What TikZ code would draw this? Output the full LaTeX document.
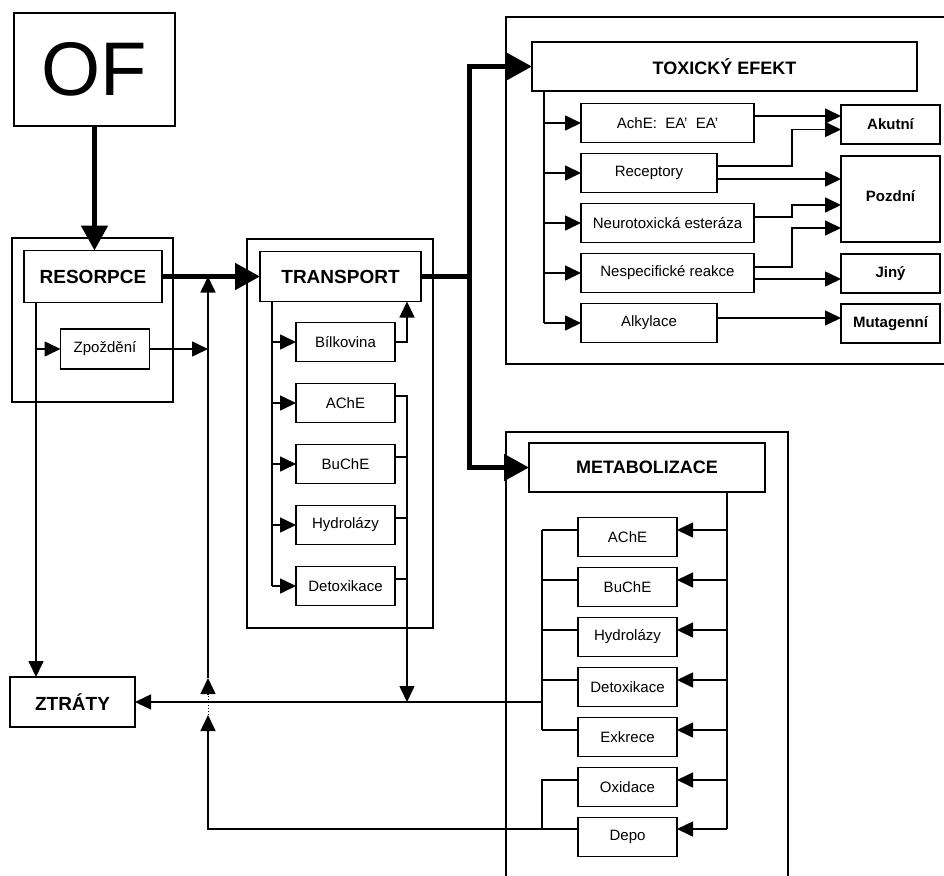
\documentclass[tikz,border=0pt]{standalone}
\usepackage{fontspec}
\setmainfont{Liberation Sans}
\usetikzlibrary{arrows.meta}
\usetikzlibrary{positioning}

\begin{document}
\begin{tikzpicture}[
        x=1pt, y=-1pt,
        node distance=11pt,
        every node/.style={rectangle, draw, line width=1.6pt, inner sep=0pt, outer sep=0pt, minimum width=99pt, minimum height=39pt, font=\fontsize{15}{18}\selectfont},
        head/.style={font=\fontsize{19}{22}\selectfont\bfseries, minimum height=50pt},
        result/.style={font=\fontsize{15}{18}\selectfont\bfseries},
        group/.style={line width=1.8pt},
        line/.style={line width=1.6pt},
        arrow/.style={line width=1.6pt, -{Triangle[length=16pt, width=15pt]}},
        bigarrow/.style={line width=5pt, -{Triangle[length=25pt, width=26pt]}}
    ]
    \useasboundingbox (0,0) rectangle (944,875);

    % Frames
    \node[group, minimum width=161pt, minimum height=164pt] (gres) at (92.5,320) {};
    \node[group, minimum width=186pt, minimum height=389pt] (gtra) at (340,433.5) {};
    \node[group, minimum width=460pt, minimum height=347pt] (gtox) at (736,190.5) {};
    \node[group, minimum width=282pt, minimum height=480pt] (gmet) at (647,672) {};

    % Main boxes
    \node[minimum width=161pt, minimum height=113pt, font=\fontsize{76}{80}\selectfont] (of) at (94.5,69.5) {OF};
    \node[head, minimum width=138pt, minimum height=52pt] (resorpce) at (93,276.5) {RESORPCE};
    \node[minimum width=89pt, minimum height=40pt] (zpozd) at (105,349) {Zpoždění};
    \node[head, minimum width=161pt] (transport) at (340.5,276.5) {TRANSPORT};
    \node[head, font=\fontsize{18}{22}\selectfont\bfseries, minimum width=385pt, minimum height=49pt] (toxic) at (724.5,66.5) {TOXICKÝ EFEKT};
    \node[head, font=\fontsize{18}{22}\selectfont\bfseries, minimum width=236pt, minimum height=49pt] (metab) at (647,467.5) {METABOLIZACE};
    \node[head, minimum width=125pt] (ztraty) at (72.5,702) {ZTRÁTY};

    % Transport
    \node (bilk) at (345.5,342) {Bílkovina};
    \node[below=22pt of bilk] (tache) {AChE};
    \node[below=22pt of tache] (tbuche) {BuChE};
    \node[below=22pt of tbuche] (thydro) {Hydrolázy};
    \node[below=22pt of thydro] (tdetox) {Detoxikace};

    % Toxic effect
    \node[anchor=west, minimum width=173pt] (achx) at (581,123) {AchE:\ \ EA'\ \ EA'};
    \node[below right=11pt and 0pt of achx.south west, minimum width=136pt] (recep) {Receptory};
    \node[below right=11pt and 0pt of recep.south west, minimum width=173pt] (neuro) {Neurotoxická esteráza};
    \node[below right=11pt and 0pt of neuro.south west, minimum width=173pt] (nespec) {Nespecifické reakce};
    \node[below right=11pt and 0pt of nespec.south west, minimum width=136pt] (alky) {Alkylace};

    \node[result] (akutni) at (890.5,124.5) {Akutní};
    \node[result, below=12pt of akutni, minimum height=86pt] (pozdni) {\raisebox{7pt}{Pozdní}};
    \node[result, below=12pt of pozdni] (jiny) {Jiný};
    \node[result, below=11pt of jiny] (mutag) {Mutagenní};

    % Metabolism
    \node (mache) at (627.5,537) {AChE};
    \node[below=of mache] (mbuche) {BuChE};
    \node[below=of mbuche] (mhydro) {Hydrolázy};
    \node[below=of mhydro] (mdetox) {Detoxikace};
    \node[below=of mdetox] (mexkr) {Exkrece};
    \node[below=of mexkr] (moxid) {Oxidace};
    \node[below=of moxid] (mdepo) {Depo};

    % Junctions
    \coordinate (split) at (469,276.5);
    \coordinate (feed) at (208,276.5);
    \coordinate (rbus) at ([xshift=12pt]resorpce.south west);
    \coordinate (tbus) at ([xshift=12pt]transport.south west);
    \coordinate (tdrop) at ([xshift=12pt]tache.east);
    \coordinate (xbus) at ([xshift=12pt]toxic.south west);
    \coordinate (xjoin) at ([xshift=38pt]achx.east);
    \coordinate (mright) at ([xshift=-38pt]metab.south east);
    \coordinate (mleft) at ([xshift=-36pt]mache.west);

    % Thick arrows
    \draw[bigarrow] (of.south) -- (of.south |- resorpce.north);
    \draw[bigarrow] (resorpce.east) -- (resorpce.east -| transport.west);
    \draw[line width=5pt] (transport.east) -- (split);
    \draw[bigarrow] (split) |- (toxic.west);
    \draw[bigarrow] (split) |- (metab.west);

    % Resorption
    \draw[arrow] (rbus) -- (rbus |- ztraty.north);
    \draw[arrow] (rbus |- zpozd.west) -- (zpozd.west);
    \draw[arrow] (zpozd.east) -- (zpozd.east -| feed);

    % Transport branches
    \draw[line] (tbus) -- (tbus |- tdetox.west);
    \foreach \n in {bilk, tache, tbuche, thydro, tdetox}
        \draw[arrow] (tbus |- \n.west) -- (\n.west);
    \draw[arrow] (bilk.east) -| ([xshift=-14pt]transport.south east);
    \draw[arrow] ([yshift=7pt]tache.east) -| (ztraty.east -| tdrop);
    \foreach \n in {tbuche, thydro, tdetox}
        \draw[line] ([yshift=7pt]\n.east) -- ([yshift=7pt]\n.east -| tdrop);

    % Toxic effect branches
    \draw[line] (xbus) -- (xbus |- alky.west);
    \foreach \n in {achx, recep, neuro, nespec, alky}
        \draw[arrow] (xbus |- \n.west) -- (\n.west);
    \draw[arrow] ([yshift=7pt]achx.east) -- ([yshift=7pt]achx.east -| akutni.west);
    \draw[arrow] ([yshift=7pt]recep.east) -| ([yshift=-5pt]akutni.west -| xjoin) -- ([yshift=-5pt]akutni.west);
    \draw[arrow] ([yshift=-6pt]recep.east) -- ([yshift=-6pt]recep.east -| pozdni.west);
    \draw[arrow] ([yshift=6pt]neuro.east) -| ([yshift=-6pt]pozdni.west -| xjoin) -- ([yshift=-6pt]pozdni.west);
    \draw[arrow] ([yshift=6pt]nespec.east) -| ([yshift=-29pt]pozdni.west -| xjoin) -- ([yshift=-29pt]pozdni.west);
    \draw[arrow] ([yshift=-6pt]nespec.east) -- ([yshift=-6pt]nespec.east -| jiny.west);
    \draw[arrow] ([yshift=5pt]alky.east) -- ([yshift=5pt]alky.east -| mutag.west);

    % Metabolism branches
    \draw[line] (mright) -- ([yshift=8pt]mdepo.east -| mright);
    \foreach \n in {mache, mbuche, mhydro, mdetox, mexkr, moxid}
        \draw[arrow] ([yshift=7pt]\n.east -| mright) -- ([yshift=7pt]\n.east);
    \draw[arrow] ([yshift=8pt]mdepo.east -| mright) -- ([yshift=8pt]mdepo.east);
    \draw[line] ([yshift=7pt]mache.west -| mleft) -- ([yshift=7pt]mexkr.west -| mleft);
    \foreach \n in {mache, mbuche, mhydro, mdetox, mexkr}
        \draw[line] ([yshift=7pt]\n.west) -- ([yshift=7pt]\n.west -| mleft);
    \draw[arrow] (ztraty.east -| mleft) -- (ztraty.east);
    \draw[line] ([yshift=7pt]moxid.west) -| ([yshift=8pt]mdepo.west -| mleft);

    % Return path
    \draw[arrow] ([yshift=8pt]mdepo.west) -| ([yshift=-13pt]ztraty.east -| feed);
    \draw[line width=1pt, dotted] ([yshift=-13pt]ztraty.east -| feed) -- ([yshift=8pt]ztraty.east -| feed);
    \draw[arrow] ([yshift=8pt]ztraty.east -| feed) -- ([yshift=24pt]ztraty.east -| feed);
    \draw[arrow] ([yshift=24pt]ztraty.east -| feed) -- (feed);

\end{tikzpicture}
\end{document}
